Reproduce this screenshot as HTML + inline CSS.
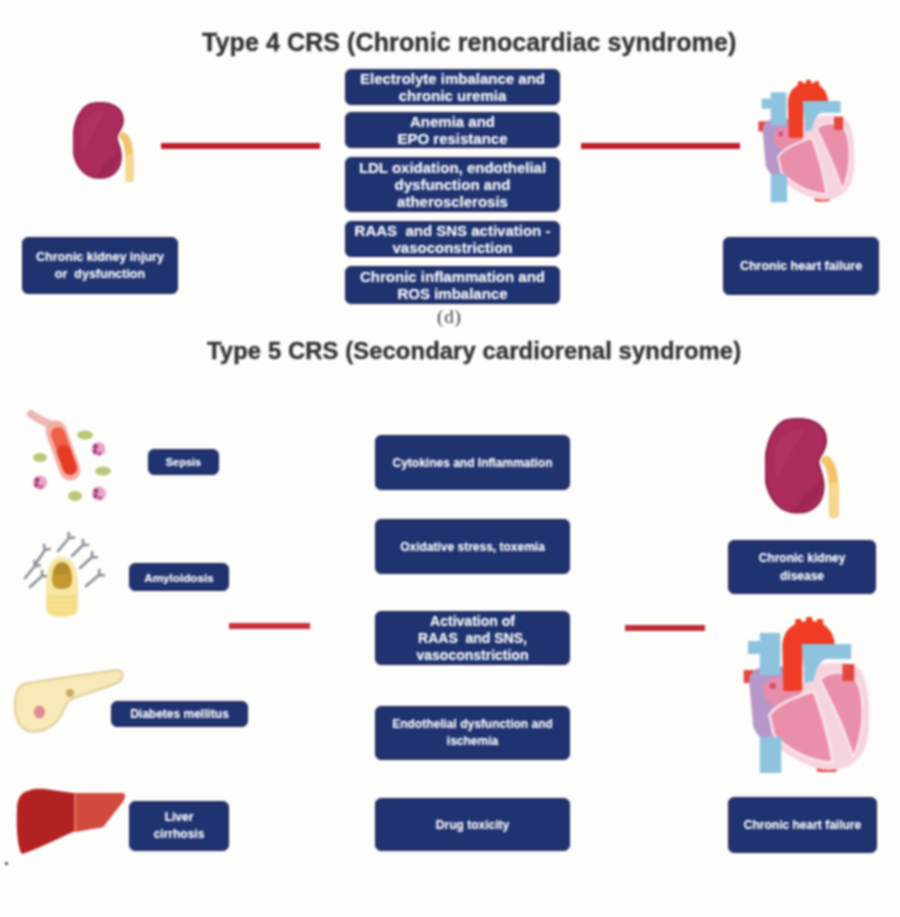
<!DOCTYPE html>
<html><head><meta charset="utf-8">
<style>
html,body{margin:0;padding:0;}
body{width:900px;height:917px;background:#fdfdfc;position:relative;overflow:hidden;font-family:"Liberation Sans",sans-serif;}
.a{position:absolute;}
.t{position:absolute;font-weight:bold;color:#333335;-webkit-text-stroke:0.35px #333335;white-space:nowrap;line-height:1;letter-spacing:0.1px;}
.b{position:absolute;box-sizing:border-box;background:#1f3370;border:1.5px solid #2a2a52;border-radius:6px;color:#f4f6fa;font-weight:bold;text-shadow:0 0 0.8px rgba(255,255,255,0.7);display:flex;align-items:center;justify-content:center;text-align:center;white-space:nowrap;}
.ln{position:absolute;background:#c01b28;}
</style></head><body>
<div id="w" style="position:absolute;left:0;top:0;width:900px;height:917px;filter:blur(0.8px);">
<!-- Type 4 -->
<div class="t" id="t4" style="left:202px;top:30px;font-size:25px;">Type 4 CRS (Chronic renocardiac syndrome)</div>

<div class="b" style="left:22px;top:237px;width:156px;height:57px;font-size:12.5px;line-height:17px;">Chronic kidney injury<br>or&nbsp; dysfunction</div>

<div class="ln" style="left:161px;top:143px;width:159px;height:6px;"></div>
<div class="ln" style="left:581px;top:143px;width:159px;height:6px;"></div>

<div class="b" style="left:345px;top:69px;width:215px;height:36px;font-size:15px;line-height:17px;">Electrolyte imbalance and<br>chronic uremia</div>
<div class="b" style="left:345px;top:112px;width:215px;height:36px;font-size:15px;line-height:17px;">Anemia and<br>EPO resistance</div>
<div class="b" style="left:345px;top:157px;width:215px;height:55px;font-size:15px;line-height:17px;">LDL oxidation, endothelial<br>dysfunction and<br>atherosclerosis</div>
<div class="b" style="left:345px;top:221px;width:215px;height:36px;font-size:15px;line-height:17px;">RAAS&nbsp; and SNS activation -<br>vasoconstriction</div>
<div class="b" style="left:345px;top:266px;width:215px;height:38px;font-size:15px;line-height:17px;">Chronic inflammation and<br>ROS imbalance</div>

<div class="b" style="left:723px;top:237px;width:156px;height:58px;font-size:12.5px;line-height:17px;">Chronic heart failure</div>

<div class="a" style="left:437px;top:306px;letter-spacing:0.8px;font-family:'Liberation Serif',serif;font-size:19px;line-height:22px;color:#3a3a3a;">(d)</div>

<!-- Type 5 -->
<div class="t" id="t5" style="left:207px;top:339px;font-size:23.8px;">Type 5 CRS (Secondary cardiorenal syndrome)</div>

<div class="b" style="left:148px;top:449px;width:71px;height:26px;font-size:11px;">Sepsis</div>
<div class="b" style="left:129px;top:563px;width:100px;height:28px;font-size:11.7px;">Amyloidosis</div>
<div class="b" style="left:111px;top:701px;width:137px;height:26px;font-size:12px;">Diabetes mellitus</div>
<div class="b" style="left:129px;top:801px;width:100px;height:50px;font-size:12px;line-height:17.5px;">Liver<br>cirrhosis</div>

<div class="ln" style="left:229px;top:623px;width:81px;height:6px;background:#c7313b;"></div>
<div class="ln" style="left:625px;top:625px;width:80px;height:6px;background:#bf2e38;"></div>

<div class="b" style="left:375px;top:435px;width:195px;height:55px;font-size:12px;">Cytokines and Inflammation</div>
<div class="b" style="left:375px;top:519px;width:195px;height:55px;font-size:12px;">Oxidative stress, toxemia</div>
<div class="b" style="left:375px;top:611px;width:195px;height:54px;font-size:14px;line-height:17px;">Activation of<br>RAAS&nbsp; and SNS,<br>vasoconstriction</div>
<div class="b" style="left:375px;top:706px;width:195px;height:54px;font-size:12px;line-height:17px;">Endothelial dysfunction and<br>ischemia</div>
<div class="b" style="left:375px;top:798px;width:195px;height:53px;font-size:12px;">Drug toxicity</div>

<div class="b" style="left:728px;top:540px;width:148px;height:54px;font-size:12px;line-height:18px;">Chronic kidney<br>disease</div>
<div class="b" style="left:728px;top:797px;width:149px;height:56px;font-size:12px;">Chronic heart failure</div>

<div class="a" style="left:5px;top:862px;width:3px;height:3px;border-radius:50%;background:#333;"></div>
<svg class="a" style="left:73px;top:101.5px;" width="64" height="80" viewBox="0 0 60 80" preserveAspectRatio="none">
<path d="M47 34 C 50 36, 53 45, 53 60 L 53 77" stroke="#f2c46a" stroke-width="7.5" fill="none" stroke-linecap="round"/>
<path d="M53 55 L 53 77" stroke="#f6d890" stroke-width="6" fill="none" stroke-linecap="round"/>
<path d="M20 1 C 35 -1, 47 5, 47 18 C 47 27, 41 31, 41 35 C 41 40, 46 47, 45 57 C 44 70, 35 77, 24 76 C 10 76, 0 62, 0 42 C 0 18, 8 2, 20 1 Z" fill="#ab2c5b" stroke="#90204c" stroke-width="1.5"/>
<path d="M8 24 C 12 12, 22 8, 30 10 C 24 22, 16 34, 10 50 C 6 42, 6 32, 8 24 Z" fill="#b8406c" opacity="0.35"/>
<path d="M30 60 C 36 58, 42 52, 44 48 C 44 62, 36 74, 22 75 C 26 70, 28 64, 30 60 Z" fill="#8e2150" opacity="0.45"/>
</svg><svg class="a" style="left:750.5px;top:75px;" width="111" height="133.5" viewBox="0 0 135 170" preserveAspectRatio="none">
<rect x="9" y="59" width="14" height="13" fill="#e4473e"/>
<rect x="77" y="152" width="19" height="9" rx="3" fill="#e4473e"/>
<path d="M18 78 C 16 60, 30 52, 48 55 L 66 60 C 82 50, 104 48, 117 58 C 127 72, 128 112, 123 134 C 117 154, 98 162, 80 158 C 58 152, 32 134, 22 110 Z" fill="#f6d4de"/>
<path d="M14 70 C 14 57, 28 53, 46 56 L 50 126 C 46 138, 26 136, 18 116 Z" fill="#b697c9"/>
<path d="M28 74 C 32 64, 50 62, 64 72 C 66 84, 54 94, 40 96 C 30 92, 26 84, 28 74 Z" fill="#e68dab"/>
<circle cx="36" cy="75" r="3" fill="#d2506a"/>
<path d="M33 104 C 40 92, 58 86, 74 80 C 82 102, 88 126, 92 151 C 76 152, 54 142, 37 124 Z" fill="#e98fa9" stroke="#f9e4ea" stroke-width="2.5"/>
<path d="M80 68 C 92 58, 110 60, 116 74 C 122 94, 121 122, 111 146 C 104 120, 92 94, 80 68 Z" fill="#e98fa9" stroke="#f9e4ea" stroke-width="2"/>
<rect x="101" y="53" width="11" height="17" fill="#e4473e"/>
<rect x="24" y="126" width="20" height="36" fill="#8ec3df"/>
<rect x="24" y="22" width="19" height="42" fill="#8ec3df"/>
<rect x="13" y="30" width="30" height="13" fill="#8ec3df"/>
<rect x="57" y="8" width="6" height="6" rx="1.5" fill="#ee3d24"/>
<rect x="67" y="6" width="6" height="6" rx="1.5" fill="#ee3d24"/>
<rect x="77" y="8" width="6" height="6" rx="1.5" fill="#ee3d24"/>
<path d="M46 80 L 45 35 C 46 16, 58 10, 72 10 C 86 11, 93 21, 94 34 L 64 36 L 63 80 Z" fill="#ee3d24"/>
<path d="M63 33 L 109 33 L 109 48 L 86 48 C 80 50, 76 58, 74 70 L 66 72 L 64 45 Z" fill="#8ec3df"/>
</svg><svg class="a" style="left:20px;top:400px;" width="100" height="110" viewBox="0 0 100 110">
<path d="M11 14 C 18 20, 28 22, 36 28" stroke="#ebb8b0" stroke-width="8" fill="none" stroke-linecap="round"/>
<path d="M36 31 L 50 70" stroke="#f2aca4" stroke-width="21" stroke-linecap="round"/>
<path d="M38 34 L 50 68" stroke="#ef6044" stroke-width="14" stroke-linecap="round"/>
<path d="M44 52 L 50 68" stroke="#e63a26" stroke-width="14" stroke-linecap="round"/>
<ellipse cx="65" cy="35" rx="8" ry="4.5" fill="#bcc878"/>
<ellipse cx="20" cy="57.5" rx="7" ry="4.5" fill="#bcc878"/>
<ellipse cx="83" cy="71" rx="8" ry="4.5" fill="#bcc878"/>
<ellipse cx="55" cy="96" rx="7" ry="5" fill="#bcc878"/>
<circle cx="78.5" cy="49" r="7" fill="#eaa2c6"/><circle cx="75.5" cy="46.5" r="2.4" fill="#9a3a78"/><circle cx="75.0" cy="51.5" r="2.2" fill="#9a3a78"/><circle cx="79.5" cy="53.5" r="1.8" fill="#a84a88"/>
<circle cx="20" cy="82.5" r="7" fill="#eaa2c6"/><circle cx="17" cy="80.0" r="2.4" fill="#9a3a78"/><circle cx="16.5" cy="85.0" r="2.2" fill="#9a3a78"/><circle cx="21" cy="87.0" r="1.8" fill="#a84a88"/>
<circle cx="79" cy="93.5" r="7" fill="#eaa2c6"/><circle cx="76" cy="91.0" r="2.4" fill="#9a3a78"/><circle cx="75.5" cy="96.0" r="2.2" fill="#9a3a78"/><circle cx="80" cy="98.0" r="1.8" fill="#a84a88"/>
</svg><svg class="a" style="left:20px;top:530px;" width="90" height="95" viewBox="0 0 90 95">
<g stroke="#8a9098" stroke-width="2.6" stroke-linecap="round" fill="none"><path d="M5 48 L15 36 M15 36 L20.0 35.5 M15 36 L14.5 31.0 M15 35 L25 20 M25 20 L29.9 19.0 M25 20 L24.0 15.1 M10 57 L22 46 M22 46 L27.0 46.2 M22 46 L22.2 41.0 M38 21 L49 8 M49 8 L54.0 7.6 M49 8 L48.6 3.0 M52 26 L63 15 M63 15 L68.0 15.0 M63 15 L63.0 10.0 M60 38 L72 27 M72 27 L77.0 27.2 M72 27 L72.2 22.0 M66 56 L79 45 M79 45 L84.0 45.4 M79 45 L79.4 40.0"/></g>
<path d="M42 27 C 54 27, 58 40, 58 58 L 58 78 C 58 85, 50 87, 42 87 C 34 87, 26 85, 26 78 L 26 58 C 26 40, 30 27, 42 27 Z" fill="#f6e7a8"/>
<path d="M27 65 L 57 65 L 57 80 C 56 84, 50 86, 42 86 C 34 86, 28 84, 27 80 Z" fill="#f4dd84"/>
<path d="M28 70 L 56 70 M28 75 L 56 75 M29 80 L 55 80" stroke="#f7e6a0" stroke-width="1"/>
<path d="M42 32 C 50 32, 52 42, 52 50 C 52 57, 48 59, 42 59 C 36 59, 32 57, 32 50 C 32 42, 34 32, 42 32 Z" fill="#c49a30"/>
<path d="M42 33 C 48 33, 50 40, 50 44 L 34 44 C 34 40, 36 33, 42 33 Z" fill="#a8822a" opacity="0.6"/>
</svg><svg class="a" style="left:10px;top:660px;" width="120" height="80" viewBox="0 0 120 80">
<path d="M14 24 C 40 19, 80 14, 106 10 C 113 10, 115 16, 109 22 C 92 30, 72 34, 60 40 C 54 44, 54 54, 46 62 C 38 70, 26 74, 16 70 C 7 66, 4 52, 5 40 C 6 31, 9 26, 14 24 Z" fill="#f8eab8" stroke="#dccd98" stroke-width="2"/>
<ellipse cx="29.5" cy="52" rx="5.5" ry="6.5" fill="#e08a96"/>
<circle cx="60" cy="33" r="4" fill="#c8a868"/>
</svg><svg class="a" style="left:5px;top:780px;" width="130" height="90" viewBox="0 0 130 90">
<path d="M17 14 C 22 10, 30 8, 40 9 L 68 13 L 118 13 C 121 14, 120 20, 116 24 L 98 47 L 68 52 C 50 60, 30 70, 17 74 C 13 70, 11 50, 12 28 C 12 22, 14 17, 17 14 Z" fill="#b32222"/>
<path d="M70 13 L 118 13 C 121 14, 120 20, 116 24 L 98 47 L 70 52 Z" fill="#d24a3e"/>
<path d="M70 14 L 70 52" stroke="#ea8a7a" stroke-width="1.5"/>
</svg><svg class="a" style="left:765px;top:418px;" width="78" height="99.5" viewBox="0 0 60 80" preserveAspectRatio="none">
<path d="M47 34 C 50 36, 53 45, 53 60 L 53 77" stroke="#f2c46a" stroke-width="7.5" fill="none" stroke-linecap="round"/>
<path d="M53 55 L 53 77" stroke="#f6d890" stroke-width="6" fill="none" stroke-linecap="round"/>
<path d="M20 1 C 35 -1, 47 5, 47 18 C 47 27, 41 31, 41 35 C 41 40, 46 47, 45 57 C 44 70, 35 77, 24 76 C 10 76, 0 62, 0 42 C 0 18, 8 2, 20 1 Z" fill="#ab2c5b" stroke="#90204c" stroke-width="1.5"/>
<path d="M8 24 C 12 12, 22 8, 30 10 C 24 22, 16 34, 10 50 C 6 42, 6 32, 8 24 Z" fill="#b8406c" opacity="0.35"/>
<path d="M30 60 C 36 58, 42 52, 44 48 C 44 62, 36 74, 22 75 C 26 70, 28 64, 30 60 Z" fill="#8e2150" opacity="0.45"/>
</svg><svg class="a" style="left:734px;top:610.5px;" width="145" height="170" viewBox="0 0 135 170" preserveAspectRatio="none">
<rect x="9" y="59" width="14" height="13" fill="#e4473e"/>
<rect x="77" y="152" width="19" height="9" rx="3" fill="#e4473e"/>
<path d="M18 78 C 16 60, 30 52, 48 55 L 66 60 C 82 50, 104 48, 117 58 C 127 72, 128 112, 123 134 C 117 154, 98 162, 80 158 C 58 152, 32 134, 22 110 Z" fill="#f6d4de"/>
<path d="M14 70 C 14 57, 28 53, 46 56 L 50 126 C 46 138, 26 136, 18 116 Z" fill="#b697c9"/>
<path d="M28 74 C 32 64, 50 62, 64 72 C 66 84, 54 94, 40 96 C 30 92, 26 84, 28 74 Z" fill="#e68dab"/>
<circle cx="36" cy="75" r="3" fill="#d2506a"/>
<path d="M33 104 C 40 92, 58 86, 74 80 C 82 102, 88 126, 92 151 C 76 152, 54 142, 37 124 Z" fill="#e98fa9" stroke="#f9e4ea" stroke-width="2.5"/>
<path d="M80 68 C 92 58, 110 60, 116 74 C 122 94, 121 122, 111 146 C 104 120, 92 94, 80 68 Z" fill="#e98fa9" stroke="#f9e4ea" stroke-width="2"/>
<rect x="101" y="53" width="11" height="17" fill="#e4473e"/>
<rect x="24" y="126" width="20" height="36" fill="#8ec3df"/>
<rect x="24" y="22" width="19" height="42" fill="#8ec3df"/>
<rect x="13" y="30" width="30" height="13" fill="#8ec3df"/>
<rect x="57" y="8" width="6" height="6" rx="1.5" fill="#ee3d24"/>
<rect x="67" y="6" width="6" height="6" rx="1.5" fill="#ee3d24"/>
<rect x="77" y="8" width="6" height="6" rx="1.5" fill="#ee3d24"/>
<path d="M46 80 L 45 35 C 46 16, 58 10, 72 10 C 86 11, 93 21, 94 34 L 64 36 L 63 80 Z" fill="#ee3d24"/>
<path d="M63 33 L 109 33 L 109 48 L 86 48 C 80 50, 76 58, 74 70 L 66 72 L 64 45 Z" fill="#8ec3df"/>
</svg>
</div>
</body></html>
